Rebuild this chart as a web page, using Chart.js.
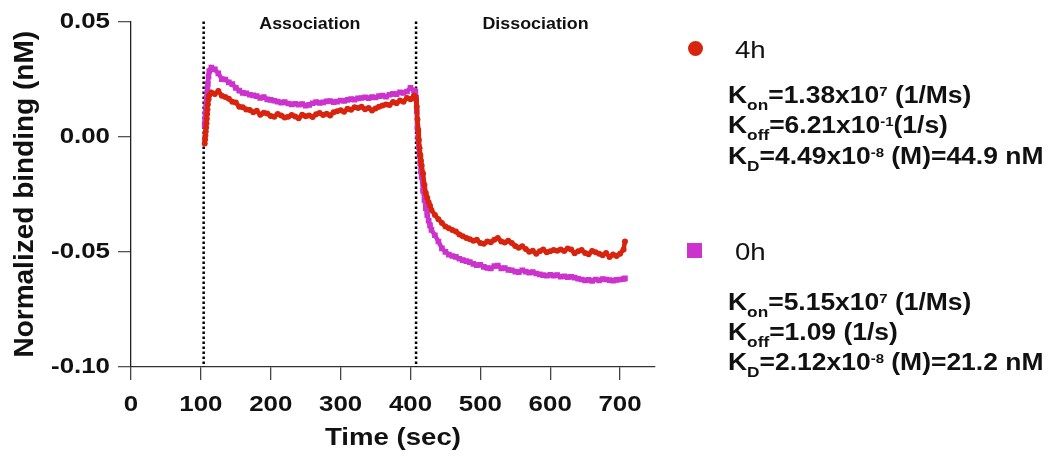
<!DOCTYPE html>
<html>
<head>
<meta charset="utf-8">
<script src="https://cdn.jsdelivr.net/npm/chart.js@4.4.1/dist/chart.umd.min.js"></script>
<style>
  html, body { margin: 0; padding: 0; background: #fff; }
  #wrap { position: relative; width: 1055px; height: 456px; overflow: hidden;
          font-family: "Liberation Sans", Arial, sans-serif; color: #111; }
  #chart { position: absolute; left: 0; top: 0; }
  .mk { position: absolute; width: 15px; height: 15px; }
  .ln { position: absolute; white-space: nowrap; transform-origin: 0 0; transform: scaleX(1.15); }
  .series { font-size: 24px; line-height: 24px; font-weight: 400; }
  .k { font-size: 23px; line-height: 23px; font-weight: 700; }
  .sub { position: relative; top: 7px; font-size: 15px; }
  .sup { position: relative; top: -7px; font-size: 13px; }
</style>
</head>
<body>
<div id="wrap">
  <canvas id="chart" width="1055" height="456"></canvas>

  <div class="mk" style="left:688px;top:40.5px;border-radius:50%;background:#d8240e;"></div>
  <div class="ln series" style="left:735px;top:37.7px;">4h</div>
  <div class="ln k" style="left:728px;top:83.9px;">K<span class="sub">on</span>=1.38x10<span class="sup">7</span> (1/Ms)</div>
  <div class="ln k" style="left:728px;top:113.9px;">K<span class="sub">off</span>=6.21x10<span class="sup">-1</span>(1/s)</div>
  <div class="ln k" style="left:728px;top:144.9px;">K<span class="sub">D</span>=4.49x10<span class="sup">-8</span> (M)=44.9 nM</div>

  <div class="mk" style="left:687px;top:242.7px;background:#cc33cc;"></div>
  <div class="ln series" style="left:735px;top:239.7px;">0h</div>
  <div class="ln k" style="left:728px;top:290.6px;">K<span class="sub">on</span>=5.15x10<span class="sup">7</span> (1/Ms)</div>
  <div class="ln k" style="left:728px;top:320.6px;">K<span class="sub">off</span>=1.09 (1/s)</div>
  <div class="ln k" style="left:728px;top:351.3px;">K<span class="sub">D</span>=2.12x10<span class="sup">-8</span> (M)=21.2 nM</div>
</div>

<script>
// Sensorgram time points (s)
const timeSec = [
  105.5, 106, 106.5, 107, 107.5, 108, 108.5, 109, 109.5, 110, 111, 112,
  115, 120, 125, 130, 135, 140, 145, 150, 155, 160,
  165, 170, 175, 180, 185, 190, 195, 200, 205, 210,
  215, 220, 225, 230, 235, 240, 245, 250, 255, 260,
  265, 270, 275, 280, 285, 290, 295, 300, 305, 310,
  315, 320, 325, 330, 335, 340, 345, 350, 355, 360,
  365, 370, 375, 380, 385, 390, 395, 400, 405,
  407, 408, 409, 410, 411, 412, 413, 414, 415, 416,
  418, 420, 422, 424, 426, 428, 430,
  435, 440, 445, 450, 455, 460, 465, 470, 475, 480,
  485, 490, 495, 500, 505, 510, 515, 520, 525, 530,
  535, 540, 545, 550, 555, 560, 565, 570, 575, 580,
  585, 590, 595, 600, 605, 610, 615, 620, 625, 630,
  635, 640, 645, 650, 655, 660, 665, 670, 675, 680,
  685, 690, 695, 700, 705, 707
];

// Normalized binding (nM), 4h sample
const binding4h = [
  -0.0030, -0.0012, 0.0005, 0.0022, 0.0040, 0.0058, 0.0078, 0.0098, 0.0118, 0.0140, 0.0162, 0.0180,
  0.0192, 0.0185, 0.0198, 0.0178, 0.0172, 0.0165, 0.0152, 0.0148, 0.0130, 0.0128,
  0.0118, 0.0116, 0.0106, 0.0112, 0.0095, 0.0104, 0.0101, 0.0090, 0.0087, 0.0098,
  0.0092, 0.0083, 0.0086, 0.0094, 0.0088, 0.0080, 0.0095, 0.0089, 0.0092, 0.0085,
  0.0097, 0.0103, 0.0094, 0.0100, 0.0092, 0.0106, 0.0110, 0.0115, 0.0108, 0.0121,
  0.0117, 0.0128, 0.0124, 0.0130, 0.0119, 0.0124, 0.0114, 0.0122, 0.0130, 0.0135,
  0.0140, 0.0137, 0.0150, 0.0145, 0.0157, 0.0152, 0.0168, 0.0162, 0.0178,
  0.0172, 0.0160, 0.0130, 0.0075, 0.0030, -0.0015, -0.0050, -0.0080, -0.0105, -0.0125,
  -0.0160, -0.0210, -0.0245, -0.0265, -0.0285, -0.0300, -0.0318,
  -0.0340, -0.0358, -0.0375, -0.0390, -0.0398, -0.0405, -0.0412, -0.0425, -0.0432, -0.0440,
  -0.0445, -0.0452, -0.0448, -0.0462, -0.0465, -0.0455, -0.0458, -0.0448, -0.0440, -0.0455,
  -0.0460, -0.0452, -0.0462, -0.0475, -0.0482, -0.0476, -0.0488, -0.0500, -0.0495, -0.0508,
  -0.0497, -0.0490, -0.0502, -0.0498, -0.0492, -0.0495, -0.0490, -0.0496, -0.0485, -0.0490,
  -0.0506, -0.0498, -0.0492, -0.0505, -0.0510, -0.0496, -0.0502, -0.0508, -0.0515, -0.0505,
  -0.0522, -0.0512, -0.0518, -0.0508, -0.0490, -0.0455
];

// Normalized binding (nM), 0h sample
const binding0h = [
  0.0050, 0.0068, 0.0088, 0.0108, 0.0128, 0.0148, 0.0168, 0.0188, 0.0208, 0.0230, 0.0262, 0.0285,
  0.0300, 0.0292, 0.0275, 0.0250, 0.0248, 0.0236, 0.0228, 0.0212, 0.0200, 0.0190,
  0.0188, 0.0182, 0.0179, 0.0176, 0.0168, 0.0172, 0.0162, 0.0160, 0.0156, 0.0152,
  0.0148, 0.0150, 0.0144, 0.0140, 0.0143, 0.0139, 0.0142, 0.0135, 0.0138, 0.0145,
  0.0150, 0.0146, 0.0149, 0.0153, 0.0155, 0.0150, 0.0152, 0.0157, 0.0155, 0.0160,
  0.0163, 0.0161, 0.0166, 0.0168, 0.0171, 0.0167, 0.0172, 0.0170, 0.0176, 0.0178,
  0.0174, 0.0182, 0.0186, 0.0185, 0.0192, 0.0190, 0.0196, 0.0212, 0.0200,
  0.0195, 0.0170, 0.0110, 0.0040, -0.0005, -0.0045, -0.0080, -0.0115, -0.0150, -0.0175,
  -0.0235, -0.0275, -0.0310, -0.0340, -0.0365, -0.0385, -0.0405,
  -0.0428, -0.0455, -0.0485, -0.0500, -0.0512, -0.0518, -0.0522, -0.0530, -0.0536, -0.0540,
  -0.0545, -0.0552, -0.0558, -0.0556, -0.0565, -0.0570, -0.0572, -0.0562, -0.0560, -0.0572,
  -0.0570, -0.0578, -0.0580, -0.0586, -0.0588, -0.0580, -0.0586, -0.0590, -0.0588, -0.0594,
  -0.0598, -0.0601, -0.0604, -0.0600, -0.0603, -0.0601, -0.0608, -0.0606, -0.0610, -0.0608,
  -0.0612, -0.0617, -0.0620, -0.0624, -0.0622, -0.0626, -0.0620, -0.0624, -0.0618, -0.0620,
  -0.0623, -0.0625, -0.0622, -0.0620, -0.0618, -0.0615
];

const seriesNames = ['4h', '0h'];
const xTickValues = [0, 100, 200, 300, 400, 500, 600, 700];
const yTickValues = [-0.10, -0.05, 0.00, 0.05];
const phaseStarts = [104, 408];
const phaseNames = ['Association', 'Dissociation'];

const X_MIN = 0, X_MAX = 750, Y_MIN = -0.10, Y_MAX = 0.05;
const RISE_END = 110;          // injection spike drawn as separate dots
const RED = '#d8240e', MAGENTA = '#cc33cc';
const FONT = '"Liberation Sans", Arial, sans-serif';

const toPoints = ys => timeSec.map((t, i) => ({ x: t, y: ys[i] }));

// Horizontal text is set a little wide; rotated text is left as is.
const wideText = {
  id: 'wideText',
  beforeInit(chart) {
    const c = chart.ctx;
    const orig = c.fillText.bind(c);
    c.textWidth = 1.15;
    c.fillText = function (t, x, y, mw) {
      const m = c.getTransform();
      const sx = c.textWidth || 1;
      if (sx === 1 || Math.abs(m.b) > 1e-6 || Math.abs(m.c) > 1e-6) {
        return mw === undefined ? orig(t, x, y) : orig(t, x, y, mw);
      }
      c.save();
      c.translate(x, y);
      c.scale(sx, 1);
      orig(t, 0, 0);
      c.restore();
    };
  }
};

// Dotted phase boundaries and phase captions
const phases = {
  id: 'phases',
  beforeDatasetsDraw(chart) {
    const { ctx, scales: { x, y } } = chart;
    ctx.save();
    ctx.strokeStyle = '#000';
    ctx.lineWidth = 2.5;
    ctx.setLineDash([2.5, 2.5]);
    phaseStarts.forEach(t => {
      const px = x.getPixelForValue(t);
      ctx.beginPath();
      ctx.moveTo(px, y.getPixelForValue(Y_MAX));
      ctx.lineTo(px, y.getPixelForValue(Y_MIN));
      ctx.stroke();
    });
    ctx.restore();
  },
  afterDraw(chart) {
    const { ctx, scales: { x } } = chart;
    ctx.save();
    const prev = ctx.textWidth;
    ctx.textWidth = 1.05;
    ctx.fillStyle = '#111';
    ctx.font = 'bold 17px ' + FONT;
    ctx.textAlign = 'center';
    ctx.textBaseline = 'alphabetic';
    phaseNames.forEach((name, i) => {
      const a = phaseStarts[i];
      const b = i + 1 < phaseStarts.length ? phaseStarts[i + 1] : X_MAX;
      ctx.fillText(name, x.getPixelForValue((a + b) / 2), 28.5);
    });
    ctx.textWidth = prev;
    ctx.restore();
  }
};

const hideRise = c => (c.p1.parsed.x <= RISE_END ? 'rgba(0,0,0,0)' : undefined);

new Chart(document.getElementById('chart'), {
  type: 'scatter',
  data: {
    datasets: [
      {
        label: seriesNames[0],
        data: toPoints(binding4h),
        showLine: true,
        borderColor: RED,
        backgroundColor: RED,
        borderWidth: 4.5,
        pointStyle: 'circle',
        pointRadius: 3,
        pointBorderWidth: 0,
        pointBackgroundColor: RED,
        segment: { borderColor: hideRise }
      },
      {
        label: seriesNames[1],
        data: toPoints(binding0h),
        showLine: true,
        borderColor: MAGENTA,
        backgroundColor: MAGENTA,
        borderWidth: 4.5,
        pointStyle: 'rect',
        pointRadius: 4,
        pointBorderWidth: 0,
        pointBackgroundColor: MAGENTA,
        segment: { borderColor: hideRise }
      }
    ]
  },
  options: {
    responsive: false,
    animation: false,
    events: [],
    layout: { padding: { left: 0, top: 20, right: 400, bottom: 0 } },
    plugins: { legend: { display: false }, tooltip: { enabled: false } },
    scales: {
      x: {
        type: 'linear',
        min: X_MIN,
        max: X_MAX,
        afterBuildTicks: s => { s.ticks = xTickValues.map(v => ({ value: v })); },
        afterFit: s => { s.height = 89; },
        grid: { drawOnChartArea: false, drawTicks: true, tickLength: 13, color: '#444', lineWidth: 1.3 },
        border: { display: true, color: '#333', width: 1.3 },
        ticks: { font: { family: FONT, size: 22.5, weight: 'bold' }, color: '#111', padding: 11, maxRotation: 0 },
        title: {
          display: true, text: 'Time (sec)', color: '#111',
          font: { family: FONT, size: 24, weight: 'bold', lineHeight: 1.2 },
          padding: { top: 0, bottom: 3 }
        }
      },
      y: {
        min: Y_MIN,
        max: Y_MAX,
        afterBuildTicks: s => { s.ticks = yTickValues.map(v => ({ value: v })); },
        afterFit: s => { s.width = 131; },
        grid: { drawOnChartArea: false, drawTicks: true, tickLength: 13, color: '#555', lineWidth: 1.3 },
        border: { display: true, color: '#222', width: 1.3 },
        ticks: {
          font: { family: FONT, size: 22.5, weight: 'bold' }, color: '#111', padding: 8,
          callback: v => Number(v).toFixed(2)
        },
        title: {
          display: true, text: 'Normalized binding (nM)', color: '#111',
          font: { family: FONT, size: 28, weight: 'bold', lineHeight: 1.2 },
          padding: { top: 8.5, bottom: 0 }
        }
      }
    }
  },
  plugins: [wideText, phases]
});
</script>
</body>
</html>
